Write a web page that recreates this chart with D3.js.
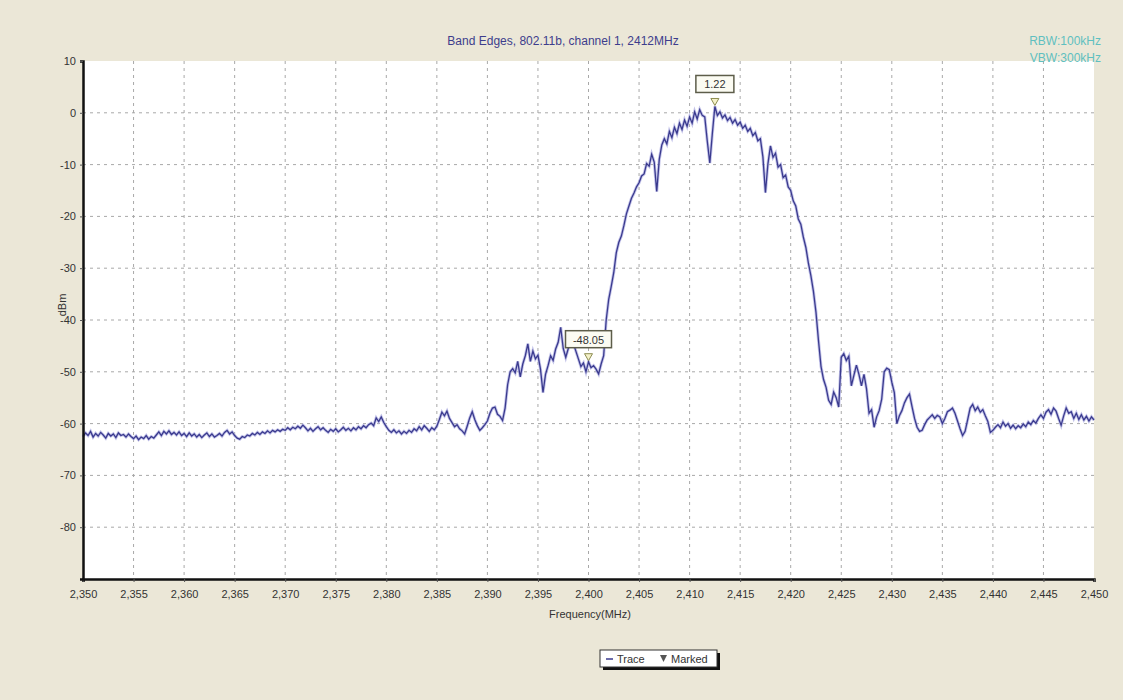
<!DOCTYPE html>
<html>
<head>
<meta charset="utf-8">
<script src="https://cdn.jsdelivr.net/npm/d3@7"></script>
<style>
  body { margin: 0; background: #ebe7d7; }
  svg { display: block; font-family: Arial, "Liberation Sans", sans-serif; }
</style>
</head>
<body>
<div id="chart"></div>
<script>
var width = 1123;
var height = 700;

// trace sampled every 0.25 MHz from 2350 to 2450 MHz (dBm), one row per 5 MHz
var freqStart = 2350;
var freqStep = 0.25;
var traceRows = [
  [-62.5,-61.8,-62.3,-61.5,-62.6,-61.9,-62.4,-61.7,-62.2,-62.8,-61.9,-62.4,-62.0,-62.7,-61.8,-62.3,-62.1,-62.6,-62.0,-62.5],
  [-62.9,-62.4,-63.1,-62.6,-62.9,-62.3,-63.0,-62.5,-62.8,-62.2,-61.6,-62.3,-61.5,-62.0,-61.4,-62.1,-61.7,-62.2,-61.6,-62.3],
  [-61.9,-62.5,-61.8,-62.4,-62.0,-62.6,-62.1,-62.7,-62.2,-61.8,-62.5,-62.0,-62.6,-62.3,-61.9,-62.4,-61.7,-61.3,-62.0,-61.6],
  [-62.3,-62.8,-63.0,-62.5,-62.7,-62.2,-62.4,-61.9,-62.2,-61.7,-62.1,-61.6,-61.9,-61.4,-61.8,-61.3,-61.6,-61.2,-61.5,-61.1],
  [-61.3,-60.8,-61.2,-60.7,-61.0,-60.5,-60.9,-60.3,-60.8,-61.4,-60.9,-61.5,-61.0,-60.6,-61.2,-60.8,-61.3,-61.7,-61.1,-61.5],
  [-61.0,-61.6,-61.2,-60.7,-61.3,-60.9,-61.4,-60.8,-61.2,-60.6,-61.0,-60.4,-60.8,-60.2,-59.9,-60.4,-58.9,-59.6,-58.7,-59.8],
  [-60.6,-61.3,-61.7,-61.2,-61.8,-61.4,-62.0,-61.5,-61.9,-61.3,-61.7,-61.0,-61.4,-60.6,-61.2,-60.4,-60.9,-61.5,-60.8,-61.2],
  [-60.5,-59.2,-57.8,-58.5,-57.6,-59.0,-59.8,-60.6,-60.2,-61.0,-61.4,-62.0,-60.5,-58.9,-57.7,-59.2,-60.4,-61.3,-60.8,-60.2],
  [-59.5,-58.0,-57.0,-56.8,-58.2,-58.6,-59.4,-57.0,-52.5,-50.0,-49.4,-50.2,-48.0,-51.0,-48.5,-46.9,-44.6,-48.0,-46.0,-47.5],
  [-46.8,-49.5,-54.0,-50.5,-48.8,-46.9,-47.8,-45.6,-44.3,-41.4,-45.5,-47.2,-45.5,-43.8,-44.5,-46.0,-47.5,-49.0,-48.3,-50.0],
  [-48.05,-49.2,-48.8,-49.5,-50.4,-48.5,-46.9,-40.0,-36.0,-33.5,-30.8,-27.0,-25.0,-23.8,-21.8,-19.5,-18.0,-16.5,-15.5,-14.3],
  [-13.5,-12.2,-11.8,-9.8,-10.3,-8.0,-9.5,-15.2,-9.0,-6.2,-5.0,-6.0,-3.6,-4.8,-2.8,-4.0,-2.0,-3.2,-1.4,-2.6],
  [-0.8,-2.0,0.2,-1.2,0.6,-0.5,-0.8,-5.5,-9.7,-4.0,1.22,-0.5,0.2,-1.0,-0.4,-1.5,-0.9,-2.0,-1.3,-2.4],
  [-1.8,-3.0,-2.4,-3.6,-3.0,-4.4,-3.8,-5.4,-5.0,-8.5,-15.4,-9.8,-6.4,-8.6,-7.8,-10.5,-10.0,-12.5,-12.0,-14.3],
  [-15.0,-17.0,-18.0,-20.5,-21.5,-24.0,-26.0,-29.0,-31.5,-34.5,-38.5,-44.0,-49.0,-51.5,-53.0,-55.5,-56.3,-53.9,-55.0,-56.8],
  [-47.2,-46.5,-47.8,-47.0,-52.7,-50.7,-48.7,-50.5,-52.7,-50.5,-53.3,-58.0,-57.3,-60.7,-58.7,-57.5,-55.3,-50.0,-49.3,-49.6],
  [-52.0,-54.0,-60.0,-58.5,-57.5,-56.0,-55.0,-54.3,-56.7,-59.0,-60.7,-61.5,-61.3,-60.2,-59.3,-58.8,-58.3,-59.0,-58.4,-58.7],
  [-60.0,-59.0,-57.7,-57.4,-57.0,-58.0,-59.5,-61.0,-62.3,-61.5,-59.3,-57.0,-56.3,-57.5,-56.8,-57.8,-57.3,-58.5,-59.6,-61.7],
  [-61.3,-60.7,-60.2,-60.8,-59.7,-60.5,-60.0,-60.9,-60.3,-61.0,-60.4,-60.8,-60.1,-60.6,-59.7,-60.2,-59.4,-59.9,-59.0,-58.3],
  [-59.0,-57.8,-57.3,-58.2,-57.0,-57.6,-59.0,-60.3,-58.5,-57.0,-58.0,-57.7,-59.0,-58.0,-59.2,-58.3,-59.3,-58.6,-59.5,-58.7,-59.3]
];

// marked points
var markerFreqs = [2412.5, 2400];
var markerValues = [1.22, -48.05];

var xTicks = d3.range(2350, 2451, 5);
var yTicks = [10, 0, -10, -20, -30, -40, -50, -60, -70, -80];

var trace = [];
traceRows.forEach(function(row, r) {
    row.forEach(function(v, i) {
        trace.push({f: freqStart + (r * 20 + i) * freqStep, v: v});
    });
});

var xScale = d3.scaleLinear().domain([2350, 2450]).range([83, 1094]);
var yScale = d3.scaleLinear().domain([-90, 10]).range([579, 61]);

var svg = d3.select("#chart").append("svg")
    .attr("width", width)
    .attr("height", height);

svg.append("rect")
    .attr("width", width).attr("height", height)
    .attr("fill", "#ebe7d7");

// plot area
svg.append("rect")
    .attr("x", xScale(2350)).attr("y", yScale(10))
    .attr("width", xScale(2450) - xScale(2350))
    .attr("height", yScale(-90) - yScale(10))
    .attr("fill", "#ffffff");

// grid
svg.append("g").selectAll("line")
    .data(xTicks.filter(function(d) { return d > 2350 && d < 2450; }))
    .enter().append("line")
    .attr("x1", function(d) { return xScale(d); })
    .attr("x2", function(d) { return xScale(d); })
    .attr("y1", yScale(10)).attr("y2", yScale(-90))
    .attr("stroke", "#a8a8a8").attr("stroke-width", 1)
    .attr("stroke-dasharray", "3,4");

svg.append("g").selectAll("line")
    .data(yTicks.filter(function(d) { return d < 10; }))
    .enter().append("line")
    .attr("x1", xScale(2350)).attr("x2", xScale(2450))
    .attr("y1", function(d) { return yScale(d); })
    .attr("y2", function(d) { return yScale(d); })
    .attr("stroke", "#a8a8a8").attr("stroke-width", 1)
    .attr("stroke-dasharray", "3,4");

// trace
var line = d3.line()
    .x(function(d) { return xScale(d.f); })
    .y(function(d) { return yScale(d.v); });

svg.append("path")
    .datum(trace)
    .attr("d", line)
    .attr("fill", "none")
    .attr("stroke", "#a9a9e0")
    .attr("stroke-width", 3)
    .attr("stroke-opacity", 0.7);

svg.append("path")
    .datum(trace)
    .attr("d", line)
    .attr("fill", "none")
    .attr("stroke", "#3a3a8e")
    .attr("stroke-width", 1.3);

// axes
var xAxis = d3.axisBottom(xScale)
    .tickValues(xTicks)
    .tickSize(3)
    .tickPadding(8)
    .tickFormat(d3.format(","));

var yAxis = d3.axisLeft(yScale)
    .tickValues(yTicks)
    .tickSize(3)
    .tickPadding(4)
    .tickFormat(function(d) { return String(d); });

var gx = svg.append("g")
    .attr("transform", "translate(0," + yScale(-90) + ")")
    .call(xAxis);
gx.select(".domain").attr("stroke", "#111").attr("stroke-width", 2.5);
gx.selectAll("text").attr("font-size", 11).attr("fill", "#333");
gx.selectAll(".tick line").attr("stroke", "#555");

var gy = svg.append("g")
    .attr("transform", "translate(" + xScale(2350) + ",0)")
    .call(yAxis);
gy.select(".domain").attr("stroke", "#111").attr("stroke-width", 2.5);
gy.selectAll("text").attr("font-size", 11).attr("fill", "#333");
gy.selectAll(".tick line").attr("stroke", "#555");

// titles
svg.append("text")
    .attr("x", 563).attr("y", 45)
    .attr("text-anchor", "middle")
    .attr("font-size", 12)
    .attr("fill", "#3d3d8c")
    .text("Band Edges, 802.11b, channel 1, 2412MHz");

svg.append("text")
    .attr("x", 1101).attr("y", 45)
    .attr("text-anchor", "end")
    .attr("font-size", 12)
    .attr("fill", "#5fbfc0")
    .text("RBW:100kHz");

svg.append("text")
    .attr("x", 1101).attr("y", 62)
    .attr("text-anchor", "end")
    .attr("font-size", 12)
    .attr("fill", "#5fbfc0")
    .text("VBW:300kHz");

svg.append("text")
    .attr("x", 590).attr("y", 618)
    .attr("text-anchor", "middle")
    .attr("font-size", 11)
    .attr("fill", "#333")
    .text("Frequency(MHz)");

svg.append("text")
    .attr("transform", "translate(66,305) rotate(-90)")
    .attr("text-anchor", "middle")
    .attr("font-size", 11)
    .attr("fill", "#333")
    .text("dBm");

// markers
var markers = markerFreqs.map(function(f, i) { return {f: f, v: markerValues[i]}; });

var mg = svg.append("g").selectAll("g")
    .data(markers)
    .enter().append("g")
    .attr("transform", function(d) {
        return "translate(" + xScale(d.f) + "," + yScale(d.v) + ")";
    });

mg.append("path")
    .attr("d", "M-4,-8L4,-8L0,-1Z")
    .attr("fill", "#f4f1c8")
    .attr("stroke", "#8c8c50")
    .attr("stroke-width", 1);

mg.append("rect")
    .attr("x", function(d) { return d.v < 0 ? -23 : -19; })
    .attr("y", -31)
    .attr("width", function(d) { return d.v < 0 ? 46 : 38; })
    .attr("height", 17)
    .attr("fill", "#fbfbf2")
    .attr("stroke", "#5d5d4a")
    .attr("stroke-width", 1.5);

mg.append("text")
    .attr("y", -18)
    .attr("text-anchor", "middle")
    .attr("font-size", 11)
    .attr("fill", "#333")
    .text(function(d) { return String(d.v); });

// legend
var lg = svg.append("g").attr("transform", "translate(600,650)");
lg.append("rect")
    .attr("x", 3).attr("y", 3).attr("width", 117).attr("height", 17)
    .attr("fill", "#111");
lg.append("rect")
    .attr("width", 117).attr("height", 17)
    .attr("fill", "#ffffff").attr("stroke", "#333").attr("stroke-width", 1);
lg.append("line")
    .attr("x1", 6).attr("x2", 13).attr("y1", 9).attr("y2", 9)
    .attr("stroke", "#3a3a8e").attr("stroke-width", 1.5);
lg.append("text")
    .attr("x", 17).attr("y", 13)
    .attr("font-size", 11).attr("fill", "#333")
    .text("Trace");
lg.append("path")
    .attr("d", "M60,5L67,5L63.5,12Z")
    .attr("fill", "#555");
lg.append("text")
    .attr("x", 71).attr("y", 13)
    .attr("font-size", 11).attr("fill", "#333")
    .text("Marked");
</script>
</body>
</html>
